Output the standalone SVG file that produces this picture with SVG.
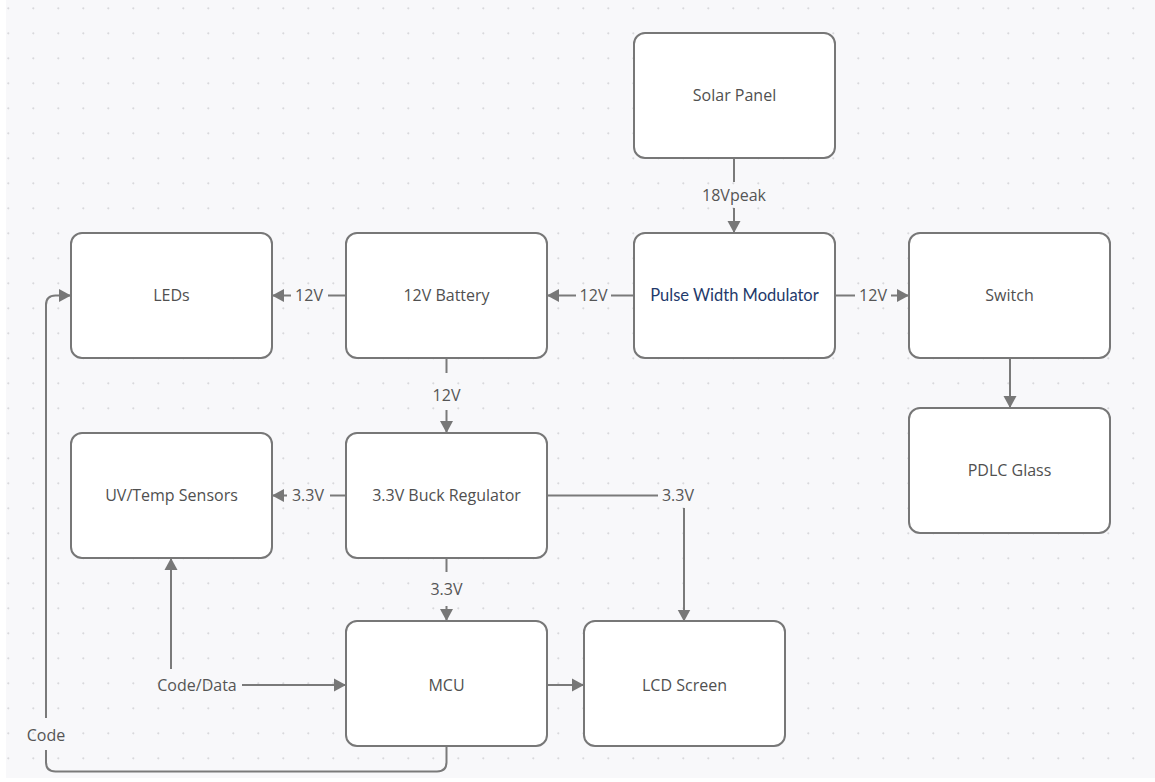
<svg xmlns="http://www.w3.org/2000/svg" width="1155" height="782" viewBox="0 0 1155 782">
  <defs>
    <pattern id="dots" width="25" height="25" patternUnits="userSpaceOnUse">
      <circle cx="8.3" cy="8.3" r="1.1" fill="#d9d9dc"/>
    </pattern>
    <marker id="arr" markerWidth="13" markerHeight="14" refX="12" refY="7" orient="auto" markerUnits="userSpaceOnUse">
      <path d="M0,0.5 L12,7 L0,13.5 z" fill="#777"/>
    </marker>
  </defs>
  <style>
    .node rect { fill: #ffffff; stroke: #777777; stroke-width: 2; }
    .node text { font-family: "Open Sans", "Noto Sans", sans-serif; font-size: 16px; fill: #505050; text-anchor: middle; }
    .node text.pwm { font-family: Lato, "Open Sans", sans-serif; font-size: 16.5px; fill: #1f3a6b; }
    .edges path { fill: none; stroke: #7a7a7a; stroke-width: 2; }
    .labels text { font-family: "Open Sans", "Noto Sans", sans-serif; font-size: 16px; fill: #555555; text-anchor: middle; }
  </style>
  <rect width="1155" height="782" fill="#ffffff"/>
  <rect x="6" y="0" width="1149" height="778" fill="#f8f8fa"/>
  <rect x="6" y="0" width="1149" height="778" fill="url(#dots)"/>

  <g class="edges">
    <path d="M734,158 V182"/>
    <path d="M734,208 V233" marker-end="url(#arr)"/>
    <path d="M634,295.5 H611"/>
    <path d="M576,295.5 H547" marker-end="url(#arr)"/>
    <path d="M346,295.5 H328"/>
    <path d="M291,295.5 H272" marker-end="url(#arr)"/>
    <path d="M835,295.5 H855"/>
    <path d="M891,295.5 H909" marker-end="url(#arr)"/>
    <path d="M1010,358 V408" marker-end="url(#arr)"/>
    <path d="M446.5,358 V373"/>
    <path d="M446.5,410 V433" marker-end="url(#arr)"/>
    <path d="M346,495.5 H330"/>
    <path d="M287,495.5 H272" marker-end="url(#arr)"/>
    <path d="M547,495.5 H658"/>
    <path d="M684,508 V621.5" marker-end="url(#arr)"/>
    <path d="M446.5,558 V572"/>
    <path d="M446.5,606 V621" marker-end="url(#arr)"/>
    <path d="M171,669 V558" marker-end="url(#arr)"/>
    <path d="M242,685 H346" marker-end="url(#arr)"/>
    <path d="M547,685 H584" marker-end="url(#arr)"/>
    <path d="M446.5,746 V762 Q446.5,771.5 437,771.5 H55.5 Q46,771.5 46,762 V750"/>
    <path d="M46,718 V305 Q46,295.5 55.5,295.5 H71" marker-end="url(#arr)"/>
  </g>

  <g class="labels">
    <text x="734" y="201">18Vpeak</text>
    <text x="593.5" y="301">12V</text>
    <text x="309" y="301">12V</text>
    <text x="873" y="301">12V</text>
    <text x="446.5" y="401">12V</text>
    <text x="308" y="501">3.3V</text>
    <text x="678" y="501">3.3V</text>
    <text x="446.5" y="595">3.3V</text>
    <text x="197" y="690.5">Code/Data</text>
    <text x="46" y="740.5">Code</text>
  </g>

  <g id="solar" class="node"><rect x="634" y="33" width="201" height="125" rx="11"/><text x="734.5" y="101">Solar Panel</text></g>
  <g id="leds" class="node"><rect x="71" y="233" width="201" height="125" rx="11"/><text x="171.5" y="301">LEDs</text></g>
  <g id="battery" class="node"><rect x="346" y="233" width="201" height="125" rx="11"/><text x="446.5" y="301">12V Battery</text></g>
  <g id="pwm" class="node"><rect x="634" y="233" width="201" height="125" rx="11"/><text class="pwm" x="734.5" y="301">Pulse Width Modulator</text></g>
  <g id="switch" class="node"><rect x="909" y="233" width="201" height="125" rx="11"/><text x="1009.5" y="301">Switch</text></g>
  <g id="pdlc" class="node"><rect x="909" y="408" width="201" height="125" rx="11"/><text x="1009.5" y="476">PDLC Glass</text></g>
  <g id="uvtemp" class="node"><rect x="71" y="433" width="201" height="125" rx="11"/><text x="171.5" y="501">UV/Temp Sensors</text></g>
  <g id="buck" class="node"><rect x="346" y="433" width="201" height="125" rx="11"/><text x="446.5" y="501">3.3V Buck Regulator</text></g>
  <g id="mcu" class="node"><rect x="346" y="621" width="201" height="125" rx="11"/><text x="446.5" y="690.5">MCU</text></g>
  <g id="lcd" class="node"><rect x="584" y="621" width="201" height="125" rx="11"/><text x="684.5" y="690.5">LCD Screen</text></g>
</svg>
